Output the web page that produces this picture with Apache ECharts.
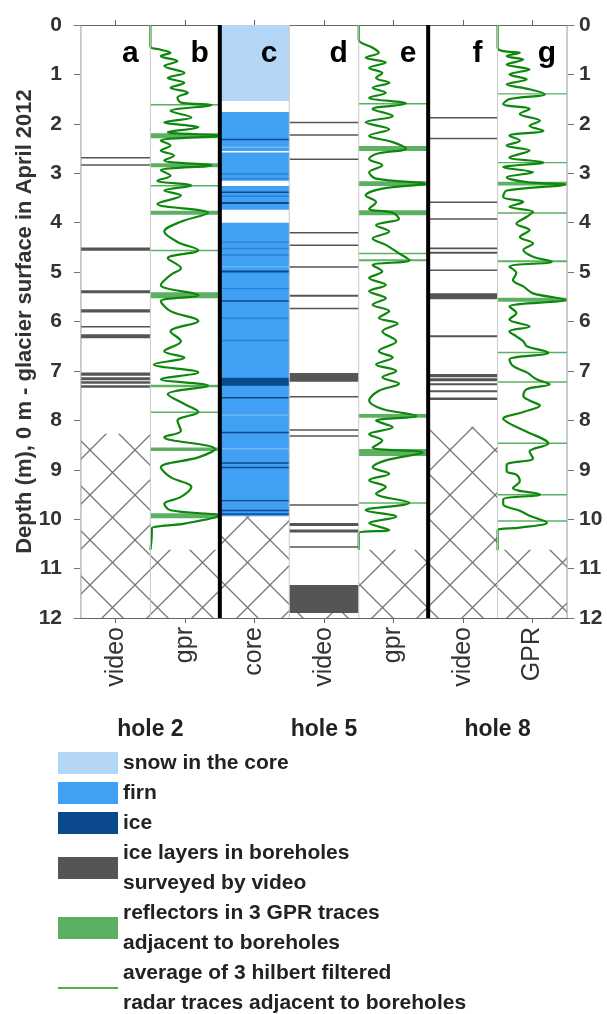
<!DOCTYPE html>
<html>
<head>
<meta charset="utf-8">
<script src="https://cdn.jsdelivr.net/npm/echarts@6/dist/echarts.min.js"></script>
<style>
html, body { margin: 0; padding: 0; background: #fff; }
#chart { width: 607px; height: 1014px; }
</style>
</head>
<body>
<div id="chart"></div>
<script>
// columns a..g, left to right (x = 1..7)
var columnLabels = ['video', 'gpr', 'core', 'video', 'gpr', 'video', 'GPR'];
var panelLetters = ['a', 'b', 'c', 'd', 'e', 'f', 'g'];
var holeNames = ['hole 2', 'hole 5', 'hole 8'];
var holeCenters = [1.5, 4, 6.5];
var holeBreaks = [2.5, 5.5];
var videoColumns = [1, 4, 6];
var gprColumns = [2, 5, 7];
var coreColumn = 3;

// ice layers seen by borehole video, [top, bottom] depth in m
var hole2Video = [[2.67, 2.70], [2.82, 2.85], [4.50, 4.57], [5.37, 5.43], [5.75, 5.82], [6.09, 6.12],
    [6.26, 6.34], [7.03, 7.10], [7.13, 7.19], [7.21, 7.26], [7.29, 7.34]];
var hole5Video = [[1.96, 1.99], [2.21, 2.24], [2.70, 2.73], [4.19, 4.22], [4.44, 4.47], [4.88, 4.91],
    [5.46, 5.50], [5.72, 5.75], [7.04, 7.22], [7.51, 7.54], [8.18, 8.21], [8.30, 8.33], [9.70, 9.73],
    [10.08, 10.14], [10.21, 10.27], [10.55, 10.58], [11.33, 11.90]];
var hole8Video = [[1.86, 1.89], [2.28, 2.31], [3.57, 3.60], [3.91, 3.94], [4.50, 4.54], [4.59, 4.63],
    [4.95, 4.98], [5.43, 5.55], [6.28, 6.32], [7.06, 7.13], [7.15, 7.21], [7.25, 7.29], [7.39, 7.43], [7.54, 7.59]];

// core of hole 5
var coreSnow = [[0, 1.54]];
var coreFirn = [[1.76, 2.55], [2.58, 3.15], [3.26, 3.74], [4.00, 9.94]];
var coreIce = [[2.30, 2.33], [3.37, 3.39], [3.58, 3.62], [4.97, 5.01], [5.57, 5.59], [7.14, 7.30],
    [7.53, 7.55], [8.23, 8.26], [8.85, 8.87], [8.94, 8.96], [9.61, 9.63], [9.81, 9.83], [9.88, 9.90]];
var coreIceFaint = [[3.00, 3.02], [3.10, 3.12], [3.45, 3.47], [4.38, 4.40], [4.51, 4.53], [4.64, 4.66],
    [5.32, 5.34], [5.92, 5.94], [6.37, 6.39]];
var coreLight = [[2.46, 2.48], [4.88, 4.90], [7.88, 7.90], [8.56, 8.58]];

// GPR reflectors, [top, bottom]
var hole2Reflectors = [[1.60, 1.63], [2.19, 2.29], [2.80, 2.88], [3.24, 3.27], [3.76, 3.84], [4.55, 4.58],
    [5.41, 5.53], [7.28, 7.33], [7.82, 7.85], [8.55, 8.62], [9.88, 9.98]];
var hole5Reflectors = [[1.58, 1.61], [2.45, 2.55], [3.16, 3.26], [3.75, 3.85], [4.61, 4.64], [4.74, 4.78],
    [7.87, 7.95], [8.58, 8.72], [9.66, 9.69]];
var hole8Reflectors = [[1.38, 1.40], [2.77, 2.80], [3.17, 3.25], [3.79, 3.81], [4.76, 4.80], [5.52, 5.60],
    [6.61, 6.64], [7.21, 7.24], [8.45, 8.48], [9.49, 9.52], [10.02, 10.05]];

// averaged hilbert traces, [relative amplitude 0..1, depth]
var hole2Trace = [[0, 0], [0, 0.43], [0.15, 0.50], [0.29, 0.56], [0.15, 0.63], [0.39, 0.73], [0.2, 0.83],
    [0.49, 0.97], [0.25, 1.07], [0.49, 1.17], [0.29, 1.27], [0.54, 1.37], [0.39, 1.47], [0.44, 1.57],
    [0.88, 1.62], [0.29, 1.74], [0.59, 1.87], [0.2, 1.97], [0.69, 2.07], [0.25, 2.17], [0.98, 2.24],
    [0.15, 2.34], [0.29, 2.44], [0.15, 2.54], [0.34, 2.64], [0.2, 2.74], [0.88, 2.84], [0.15, 2.94],
    [0.29, 3.05], [0.1, 3.15], [0.59, 3.25], [0.2, 3.35], [0.44, 3.45], [0.1, 3.62], [0.83, 3.80],
    [0.44, 3.98], [0.2, 4.18], [0.39, 4.39], [0.69, 4.56], [0.25, 4.72], [0.44, 4.92], [0.29, 5.06],
    [0.15, 5.26], [0.69, 5.47], [0.15, 5.59], [0.29, 5.79], [0.69, 5.99], [0.29, 6.20], [0.44, 6.40],
    [0.2, 6.60], [0.49, 6.73], [0.05, 6.87], [0.69, 7.03], [0.15, 7.17], [0.83, 7.30], [0.25, 7.47],
    [0.49, 7.67], [0.69, 7.83], [0.39, 8.01], [0.44, 8.21], [0.2, 8.34], [0.93, 8.58], [0.69, 8.75],
    [0.15, 8.95], [0.29, 9.15], [0.59, 9.35], [0.44, 9.55], [0.2, 9.69], [0.29, 9.82], [0.98, 9.93],
    [0.49, 10.09], [0.02, 10.19], [0.02, 10.29], [0, 10.62]];
var hole5Trace = [[0, 0], [0, 0.30], [0.2, 0.46], [0.29, 0.56], [0.1, 0.66], [0.39, 0.76], [0.15, 0.87],
    [0.34, 0.97], [0.25, 1.07], [0.44, 1.17], [0.2, 1.27], [0.39, 1.37], [0.15, 1.47], [0.68, 1.59],
    [0.2, 1.70], [0.49, 1.84], [0.1, 1.97], [0.44, 2.11], [0.15, 2.24], [0.49, 2.37], [0.68, 2.50],
    [0.25, 2.61], [0.15, 2.71], [0.34, 2.84], [0.15, 2.98], [0.25, 3.11], [0.95, 3.21], [0.34, 3.31],
    [0.1, 3.45], [0.25, 3.58], [0.15, 3.72], [0.49, 3.80], [0.58, 3.92], [0.25, 4.05], [0.44, 4.18],
    [0.2, 4.32], [0.39, 4.45], [0.58, 4.62], [0.73, 4.76], [0.2, 4.86], [0.34, 4.99], [0.15, 5.12],
    [0.39, 5.26], [0.15, 5.39], [0.39, 5.53], [0.2, 5.66], [0.44, 5.79], [0.29, 5.93], [0.56, 6.04],
    [0.34, 6.20], [0.54, 6.40], [0.29, 6.60], [0.49, 6.73], [0.25, 6.87], [0.54, 7.00], [0.34, 7.13],
    [0.58, 7.26], [0.29, 7.40], [0.15, 7.60], [0.34, 7.77], [0.83, 7.91], [0.25, 8.01], [0.49, 8.14],
    [0.15, 8.28], [0.34, 8.41], [0.2, 8.55], [0.92, 8.65], [0.39, 8.81], [0.2, 8.95], [0.44, 9.08],
    [0.15, 9.21], [0.39, 9.35], [0.25, 9.48], [0.73, 9.67], [0.1, 9.82], [0.54, 9.95], [0.15, 10.08],
    [0.44, 10.22], [0, 10.29], [0, 10.62]];
var hole8Trace = [[0, 0], [0, 0.46], [0.08, 0.53], [0.32, 0.56], [0.13, 0.63], [0.37, 0.70], [0.13, 0.80],
    [0.46, 0.90], [0.17, 1.00], [0.42, 1.10], [0.13, 1.20], [0.46, 1.30], [0.68, 1.40], [0.17, 1.50],
    [0.08, 1.60], [0.46, 1.70], [0.32, 1.80], [0.61, 1.94], [0.46, 2.04], [0.66, 2.14], [0.17, 2.24],
    [0.32, 2.34], [0.13, 2.44], [0.46, 2.54], [0.17, 2.68], [0.66, 2.78], [0.08, 2.88], [0.51, 2.98],
    [0.13, 3.08], [0.42, 3.18], [0.97, 3.23], [0.13, 3.35], [0.08, 3.48], [0.37, 3.58], [0.17, 3.68],
    [0.51, 3.78], [0.42, 3.88], [0.27, 4.02], [0.46, 4.15], [0.32, 4.29], [0.51, 4.42], [0.37, 4.55],
    [0.51, 4.69], [0.78, 4.79], [0.17, 4.89], [0.27, 5.02], [0.22, 5.16], [0.37, 5.29], [0.51, 5.43],
    [0.97, 5.56], [0.17, 5.70], [0.27, 5.83], [0.17, 5.96], [0.46, 6.10], [0.17, 6.20], [0.27, 6.30],
    [0.37, 6.40], [0.42, 6.50], [0.73, 6.63], [0.17, 6.77], [0.22, 6.90], [0.42, 7.03], [0.56, 7.17],
    [0.75, 7.27], [0.42, 7.37], [0.37, 7.50], [0.46, 7.60], [0.61, 7.70], [0.37, 7.83], [0.08, 7.97],
    [0.22, 8.10], [0.42, 8.23], [0.73, 8.47], [0.46, 8.63], [0.51, 8.77], [0.13, 8.90], [0.13, 9.03],
    [0.27, 9.10], [0.32, 9.23], [0.22, 9.37], [0.61, 9.50], [0.08, 9.60], [0.08, 9.70], [0.32, 9.83],
    [0.46, 9.93], [0.71, 10.07], [0.32, 10.17], [0.03, 10.20], [0, 10.23], [0, 10.63]];

// top of the "no data" hatched zone in each column
var hatchTops = [8.27, 10.62, 9.94, 11.9, 10.62, 8.13, 10.62];

var legendLabels = {
    snow: 'snow in the core',
    firn: 'firn',
    ice: 'ice',
    video: 'ice layers in boreholes\nsurveyed by video',
    reflector: 'reflectors in 3 GPR traces\nadjacent to boreholes',
    trace: 'average of 3 hilbert filtered\nradar traces adjacent to boreholes'
};

var FONT = '"Liberation Sans", Arial, Helvetica, sans-serif';
var MAX_DEPTH = 12;

function inColumn(col, layers) {
    return layers.map(function (l) { return [col, l[0], l[1]]; });
}

function traceData(col, trace) {
    return trace.map(function (p) { return [col - 0.5 + p[0], p[1]]; });
}

// hatch pattern
var hatch = document.createElement('canvas');
hatch.width = 45;
hatch.height = 45;
var hctx = hatch.getContext('2d');
hctx.strokeStyle = '#767676';
hctx.lineWidth = 1.3;
hctx.beginPath();
hctx.moveTo(-3, -3); hctx.lineTo(48, 48);
hctx.moveTo(48, -3); hctx.lineTo(-3, 48);
hctx.stroke();

function renderLayer(params, api) {
    var col = api.value(0);
    var p1 = api.coord([col - 0.5, api.value(1)]);
    var p2 = api.coord([col + 0.5, api.value(2)]);
    return {
        type: 'rect',
        shape: { x: p1[0], y: p1[1], width: p2[0] - p1[0], height: Math.max(p2[1] - p1[1], 1.4) },
        style: api.style()
    };
}

function renderHatch(params, api) {
    var col = api.value(0);
    var p1 = api.coord([col - 0.5, api.value(1)]);
    var p2 = api.coord([col + 0.5, api.value(2)]);
    return {
        type: 'rect',
        shape: { x: p1[0], y: p1[1], width: p2[0] - p1[0], height: p2[1] - p1[1] },
        style: { fill: { type: 'pattern', image: hatch, repeat: 'repeat' }, stroke: null }
    };
}

function renderFrame(params, api) {
    var x = api.value(0);
    var kind = api.value(1);
    var a = api.coord([x, 0]);
    var b = api.coord([x, MAX_DEPTH]);
    var style = { stroke: '#c8c8c8', lineWidth: 1 };
    if (kind === 2) style = { stroke: '#000', lineWidth: 4 };
    if (kind === 1) style = { stroke: '#9a9a9a', lineWidth: 1 };
    return { type: 'line', shape: { x1: a[0], y1: a[1], x2: b[0], y2: b[1] }, style: style };
}

function renderLetter(params, api) {
    var p = api.coord([api.value(0), api.value(1)]);
    return {
        type: 'text', x: p[0], y: p[1],
        style: {
            text: panelLetters[params.dataIndex], fill: '#000', fontSize: 30, fontWeight: 'bold',
            fontFamily: FONT, align: 'center', verticalAlign: 'middle'
        }
    };
}

function layerSeries(name, color, data, z) {
    return {
        name: name, type: 'custom', renderItem: renderLayer, data: data, z: z, silent: true,
        encode: { x: 0, y: [1, 2] }, itemStyle: { color: color }
    };
}

var colPositions = columnLabels.map(function (c, i) { return i + 1; });

var hatchData = hatchTops.map(function (t, i) { return [i + 1, t, MAX_DEPTH]; });
var frameData = [];
for (var k = 0; k <= columnLabels.length; k++) {
    var bx = k + 0.5;
    var kind = (k === 0 || k === columnLabels.length) ? 1 : (holeBreaks.indexOf(bx) >= 0 ? 2 : 0);
    frameData.push([bx, kind]);
}
var letterData = panelLetters.map(function (l, i) { return [i + 1.21, 0.58]; });

var videoData = [].concat(
    inColumn(videoColumns[0], hole2Video),
    inColumn(videoColumns[1], hole5Video),
    inColumn(videoColumns[2], hole8Video));
var reflectorData = [].concat(
    inColumn(gprColumns[0], hole2Reflectors),
    inColumn(gprColumns[1], hole5Reflectors),
    inColumn(gprColumns[2], hole8Reflectors));

var traceStyle = { color: '#0d870d', width: 2.2 };
function traceSeries(col, trace) {
    return {
        name: 'trace', type: 'line', data: traceData(col, trace), symbol: 'none', smooth: 0.35,
        lineStyle: traceStyle, itemStyle: { color: '#4caf50' }, z: 5, silent: true, clip: true
    };
}

var dom = document.getElementById('chart');
var myChart = echarts.init(dom);

var xAxisBase = {
    type: 'value', min: 0.4, max: 7.6,
    splitLine: { show: false },
    axisLine: { show: true, onZero: false, lineStyle: { color: '#666', width: 1 } },
    axisTick: { show: true, customValues: colPositions, inside: false, length: 5, lineStyle: { color: '#666' } }
};
var yAxisBase = {
    type: 'value', inverse: true, min: 0, max: MAX_DEPTH, interval: 1,
    splitLine: { show: false },
    axisLine: { show: false },
    axisTick: { show: true, inside: true, length: 6, lineStyle: { color: '#777' } },
    axisLabel: { fontSize: 21, fontWeight: 'bold', color: '#333', fontFamily: FONT }
};

myChart.setOption({
    animation: false,
    grid: { left: 74, right: 33, top: 25, bottom: 396 },
    xAxis: [
        Object.assign({}, xAxisBase, {
            position: 'bottom',
            axisLabel: {
                customValues: colPositions, rotate: 90, margin: 9,
                formatter: function (v) { return columnLabels[Math.round(v) - 1]; },
                fontSize: 25, color: '#333', fontFamily: FONT
            }
        }),
        Object.assign({}, xAxisBase, { position: 'top', axisLabel: { show: false } })
    ],
    yAxis: [
        Object.assign({}, yAxisBase, {
            position: 'left',
            name: 'Depth (m), 0 m - glacier surface in April 2012',
            nameLocation: 'middle', nameGap: 38, nameMoveOverlap: false,
            nameTextStyle: { fontSize: 22, fontWeight: 'bold', color: '#333', fontFamily: FONT },
            axisLabel: Object.assign({}, yAxisBase.axisLabel, { margin: 12 })
        }),
        Object.assign({}, yAxisBase, {
            position: 'right',
            axisLabel: Object.assign({}, yAxisBase.axisLabel, { margin: 5 })
        })
    ],
    legend: {
        orient: 'vertical', left: 52, top: 743, height: 300, itemWidth: 60, itemHeight: 22, itemGap: 0,
        selectedMode: false,
        textStyle: { fontSize: 21, fontWeight: 'bold', color: '#222', lineHeight: 30, fontFamily: FONT },
        formatter: function (name) { return legendLabels[name]; },
        data: [
            { name: 'snow', icon: 'rect' },
            { name: 'firn', icon: 'rect' },
            { name: 'ice', icon: 'rect' },
            { name: 'video', icon: 'rect' },
            { name: 'reflector', icon: 'rect' },
            {
                name: 'trace', lineStyle: { color: '#4caf50', width: 2 },
                itemStyle: { color: 'rgba(0,0,0,0)', opacity: 0, borderWidth: 0 }
            }
        ]
    },
    series: [
        {
            name: 'hatch', type: 'custom', renderItem: renderHatch, data: hatchData, z: 1, silent: true,
            encode: { x: 0, y: [1, 2] }
        },
        layerSeries('snow', '#b3d6f6', inColumn(coreColumn, coreSnow), 2),
        layerSeries('firn', '#40a0f4', inColumn(coreColumn, coreFirn), 2),
        layerSeries('firnLight', '#72b9f4', inColumn(coreColumn, coreLight), 3),
        layerSeries('iceFaint', '#2a82d2', inColumn(coreColumn, coreIceFaint), 3),
        layerSeries('ice', '#0a4a8c', inColumn(coreColumn, coreIce), 3),
        layerSeries('video', '#555555', videoData, 3),
        layerSeries('reflector', '#5cb062', reflectorData, 4),
        traceSeries(gprColumns[0], hole2Trace),
        traceSeries(gprColumns[1], hole5Trace),
        traceSeries(gprColumns[2], hole8Trace),
        {
            name: 'frame', type: 'custom', renderItem: renderFrame, data: frameData, z: 6, silent: true,
            encode: { x: 0 }
        },
        {
            name: 'letters', type: 'custom', renderItem: renderLetter, data: letterData, z: 7, silent: true,
            encode: { x: 0, y: 1 }
        }
    ]
});

// hole names under the column labels
var holeGraphics = holeNames.map(function (h, i) {
    var px = myChart.convertToPixel({ xAxisIndex: 0 }, holeCenters[i]);
    return {
        type: 'text', x: px, y: 730,
        style: { text: h, fontSize: 23, fontWeight: 'bold', fill: '#222', fontFamily: FONT, align: 'center', verticalAlign: 'middle' }
    };
});
myChart.setOption({ graphic: holeGraphics });

window.addEventListener('resize', function () {
    myChart.resize();
});
</script>
</body>
</html>
